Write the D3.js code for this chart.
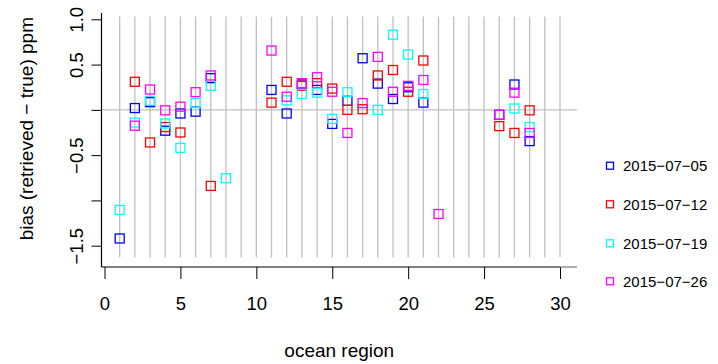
<!DOCTYPE html>
<meta charset="utf-8">
<title>bias by ocean region</title>
<style>
body { margin: 0; background: #fff; }
svg text { font-family: "Liberation Sans", Arial, sans-serif; fill: #000; }
.axis text { font-size: 18.5px; }
.axis line { stroke: #000; stroke-width: 1; }
.axislabel { font-size: 19px; }
.legend text { font-size: 15px; }
.grid { stroke: #c0c0c0; stroke-width: 1.3; }
</style>
<svg class="chart" width="718" height="364"></svg>
<script src="https://d3js.org/d3.v7.min.js"></script>
<script>

// ocean regions that have data
var regions = [1, 2, 3, 4, 5, 6, 7, 8, 11, 12, 13, 14, 15, 16, 17, 18, 19, 20, 21, 22, 26, 27, 28];

// bias values per date, aligned with regions (null = no retrieval)
var bias0705 = [-1.42, 0.02, 0.085, -0.23, -0.04, -0.02, 0.35, null, 0.22, -0.04, 0.28, 0.22, -0.155, 0.10, 0.57, 0.29, 0.12, 0.25, 0.08, null, -0.055, 0.28, -0.345];
var bias0712 = [null, 0.31, -0.36, -0.19, -0.25, null, -0.84, null, 0.08, 0.31, 0.265, 0.295, 0.235, 0.0, 0.007, 0.38, 0.44, 0.20, 0.545, null, -0.18, -0.255, -0.005];
var bias0719 = [-1.105, -0.14, 0.10, -0.15, -0.42, 0.075, 0.265, -0.755, null, 0.105, 0.175, 0.19, -0.10, 0.195, null, 0.0, 0.83, 0.61, 0.175, null, null, 0.015, -0.19];
var bias0726 = [null, -0.175, 0.225, -0.005, 0.035, 0.195, 0.38, null, 0.655, 0.145, 0.295, 0.36, 0.20, -0.255, 0.075, 0.585, 0.20, 0.265, 0.33, -1.15, -0.055, 0.19, -0.255];

var dates = ["2015\u221207\u221205", "2015\u221207\u221212", "2015\u221207\u221219", "2015\u221207\u221226"];
var colors = ["#0000ff", "#ff0000", "#00ffff", "#ff00ff"];

var xTicks = [0, 5, 10, 15, 20, 25, 30];
var yTicks = [-1.5, -1, -0.5, 0, 0.5, 1];
var yTickLabels = ["\u22121.5", "", "\u22120.5", "", "0.5", "1.0"];
var gridRegions = d3.range(1, 31);

var series = [bias0705, bias0712, bias0719, bias0726].map(function(vals, i) {
  return {
    date: dates[i],
    color: colors[i],
    points: regions.map(function(r, j) { return {region: r, value: vals[j]}; })
                   .filter(function(d) { return d.value !== null; })
  };
});

var x = d3.scaleLinear().domain([0, 30]).range([104.5, 560]);
var y = d3.scaleLinear().domain([-1.5, 1]).range([245.7, 19.3]);

var plotLeft = 101.5, plotRight = 577, plotTop = 13, plotBottom = 267;

var chart = d3.select(".chart");

// vertical region guides
chart.append("g").selectAll("line")
    .data(gridRegions)
    .enter().append("line")
    .attr("class", "grid")
    .attr("x1", function(d) { return x(d); })
    .attr("x2", function(d) { return x(d); })
    .attr("y1", y(1.03))
    .attr("y2", y(-1.63));

// zero line
chart.append("line")
    .attr("class", "grid")
    .attr("x1", plotLeft).attr("x2", plotRight)
    .attr("y1", y(0)).attr("y2", y(0));

// axes
var xAxis = d3.axisBottom(x).tickValues(xTicks).tickSize(12).tickSizeOuter(0);
var gx = chart.append("g")
    .attr("class", "axis")
    .attr("transform", "translate(0," + plotBottom + ")")
    .call(xAxis);
gx.select(".domain").remove();
gx.selectAll("text").attr("y", 43).attr("dy", null);

var yAxis = d3.axisLeft(y).tickValues(yTicks).tickSize(10).tickSizeOuter(0)
    .tickFormat(function(d, i) { return yTickLabels[i]; });
var gy = chart.append("g")
    .attr("class", "axis")
    .attr("transform", "translate(" + plotLeft + ",0)")
    .call(yAxis);
gy.select(".domain").remove();
gy.selectAll("text")
    .attr("x", null).attr("dy", null)
    .attr("text-anchor", "middle")
    .attr("transform", "translate(-19,0) rotate(-90)");

// L-shaped frame
chart.append("line")
    .attr("x1", plotLeft).attr("x2", plotLeft)
    .attr("y1", plotTop).attr("y2", plotBottom)
    .attr("stroke", "#000").attr("stroke-width", 1.2);
chart.append("line")
    .attr("x1", plotLeft).attr("x2", x(30))
    .attr("y1", plotBottom).attr("y2", plotBottom)
    .attr("stroke", "#000").attr("stroke-width", 1.2);
chart.append("line")
    .attr("x1", x(30)).attr("x2", plotRight)
    .attr("y1", plotBottom).attr("y2", plotBottom)
    .attr("stroke", "#777").attr("stroke-width", 1.2);

// points
var sq = 9;
chart.append("g").selectAll("g")
    .data(series)
    .enter().append("g")
    .attr("stroke", function(d) { return d.color; })
    .selectAll("rect")
    .data(function(d) { return d.points; })
    .enter().append("rect")
    .attr("x", function(d) { return x(d.region) - sq / 2; })
    .attr("y", function(d) { return y(d.value) - sq / 2; })
    .attr("width", sq)
    .attr("height", sq)
    .attr("fill", "none")
    .attr("stroke-width", 1.3);

// axis titles
chart.append("text")
    .attr("class", "axislabel")
    .attr("x", (plotLeft + plotRight) / 2)
    .attr("y", 356.5)
    .attr("text-anchor", "middle")
    .text("ocean region");

chart.append("text")
    .attr("class", "axislabel")
    .attr("transform", "translate(33,128.7) rotate(-90)")
    .attr("text-anchor", "middle")
    .text("bias (retrieved \u2212 true) ppm");

// legend
var legend = chart.append("g").attr("class", "legend");
var legendY = [165.7, 204.3, 243.3, 281.3];
var items = legend.selectAll("g")
    .data(series)
    .enter().append("g")
    .attr("transform", function(d, i) { return "translate(610," + legendY[i] + ")"; });
items.append("rect")
    .attr("x", -3.5).attr("y", -3.5)
    .attr("width", 7).attr("height", 7)
    .attr("fill", "none")
    .attr("stroke-width", 1.3)
    .attr("stroke", function(d) { return d.color; });
items.append("text")
    .attr("x", 13)
    .attr("dy", "0.36em")
    .text(function(d) { return d.date; });

</script>
